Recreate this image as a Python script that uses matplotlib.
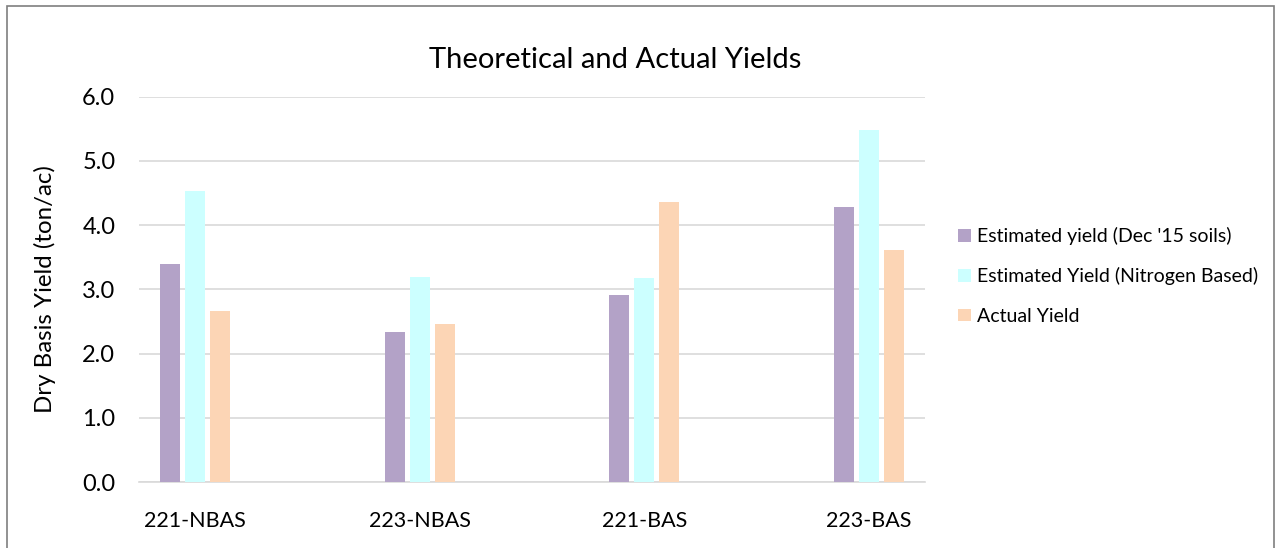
import numpy as np
import matplotlib
matplotlib.use('Agg')
import matplotlib.pyplot as plt
from matplotlib.patches import Rectangle

plt.rcParams['font.family'] = ['Lato', 'DejaVu Sans']

# data
categories = ['221-NBAS', '223-NBAS', '221-BAS', '223-BAS']
est_dec15 = [3.40, 2.34, 2.91, 4.29]
est_nitrogen = [4.53, 3.20, 3.18, 5.49]
actual = [2.66, 2.46, 4.36, 3.61]
series_names = ["Estimated yield (Dec '15 soils)", 'Estimated Yield (Nitrogen Based)', 'Actual Yield']
colors = ['#B3A2C7', '#CCFFFF', '#FCD5B5']

fig = plt.figure(figsize=(12.77, 5.48), dpi=100)
ax = fig.add_axes([0.1088, 0.1204, 0.6155, 0.703])

x = np.arange(len(categories))
width = 0.089
step = 0.111
for i, (vals, name, col) in enumerate(zip([est_dec15, est_nitrogen, actual], series_names, colors)):
    ax.bar(x + (i - 1) * step, vals, width, color=col, label=name, zorder=3)

ax.set_xlim(-0.25, 3.25)
ax.set_ylim(0, 6)
ax.set_yticks(np.arange(0, 6.1, 1.0))
ax.set_yticklabels(['%.1f' % v for v in np.arange(0, 6.1, 1.0)], fontsize=17)
ax.set_xticks(x)
ax.set_xticklabels(categories, fontsize=15.5)
ax.tick_params(axis='x', length=0, pad=21)
ax.tick_params(axis='y', length=0, pad=17)
ax.grid(axis='y', color='#D9D9D9', linewidth=1.2, zorder=0)
for s in ['top', 'right', 'left']:
    ax.spines[s].set_visible(False)
ax.spines['bottom'].set_color('#D9D9D9')
ax.spines['bottom'].set_linewidth(1.2)

ax.set_ylabel('Dry Basis Yield (ton/ac)', fontsize=17.3, labelpad=19)
fig.text(0.482, 0.89, 'Theoretical and Actual Yields', ha='center', va='center', fontsize=21)

leg = ax.legend(loc='center left', bbox_to_anchor=(1.02, 0.535), frameon=False,
                fontsize=14, handlelength=0.65, handleheight=0.65, handletextpad=0.3,
                labelspacing=1.15)

# chart border
fig.patches.append(Rectangle((0.0055, -0.05), 0.9925, 1.039, transform=fig.transFigure,
                             fill=False, edgecolor='#7F7F7F', linewidth=1.2))

fig.savefig('out.png', dpi=100)
